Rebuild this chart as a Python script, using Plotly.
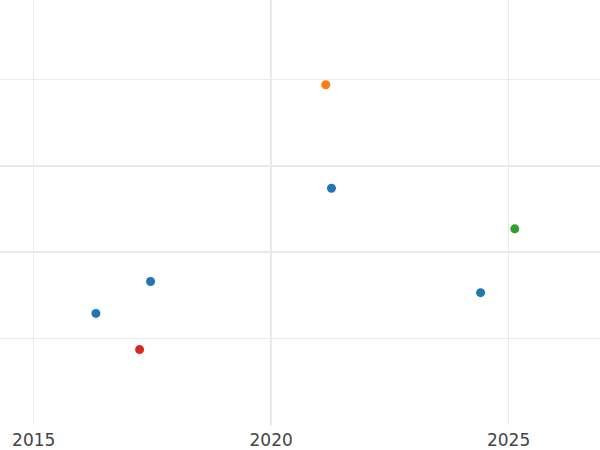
import plotly.graph_objects as go

# Data
series_names = ["A", "B", "C", "D"]
series_colors = ["#1f77b4", "#ff7f0e", "#2ca02c", "#d62728"]
a_x = [2016.31, 2017.46, 2021.27, 2024.41]
a_y = [1.29, 1.66, 2.74, 1.53]
b_x = [2021.15]
b_y = [3.94]
c_x = [2025.13]
c_y = [2.27]
d_x = [2017.23]
d_y = [0.87]

x_tickvals = [2015, 2020, 2025]
x_ticktext = ["2015", "2020", "2025"]
y_gridvals = [1, 2, 3, 4]

xs = [a_x, b_x, c_x, d_x]
ys = [a_y, b_y, c_y, d_y]

fig = go.Figure()
for name, color, x, y in zip(series_names, series_colors, xs, ys):
    fig.add_trace(go.Scatter(x=x, y=y, mode="markers", name=name,
                             marker=dict(color=color, size=9)))

fig.update_layout(
    width=600, height=450,
    margin=dict(l=0, r=0, t=0, b=23),
    paper_bgcolor="white", plot_bgcolor="white",
    showlegend=False,
    font=dict(family="DejaVu Sans", size=17, color="#444"),
)
fig.update_xaxes(
    range=[2014.29, 2026.925],
    tickmode="array", tickvals=x_tickvals, ticktext=x_ticktext,
    showgrid=True, gridcolor="#ebebeb", gridwidth=1,
    zeroline=False, showline=False, ticks="", ticklabelstandoff=3,
    minor=dict(tickmode="array", tickvals=[2020], showgrid=True,
               gridcolor="#e6e6e6", gridwidth=2),
)
fig.update_yaxes(
    range=[-0.004, 4.923],
    tickmode="array", tickvals=y_gridvals, showticklabels=False,
    showgrid=True, gridcolor="#ebebeb", gridwidth=1,
    zeroline=False, showline=False, ticks="",
    minor=dict(tickmode="array", tickvals=[2, 3], showgrid=True,
               gridcolor="#e6e6e6", gridwidth=2),
)

fig.write_html("out.html", config={"displayModeBar": False},
               post_script="document.body.style.margin='0';document.body.style.overflow='hidden';")
